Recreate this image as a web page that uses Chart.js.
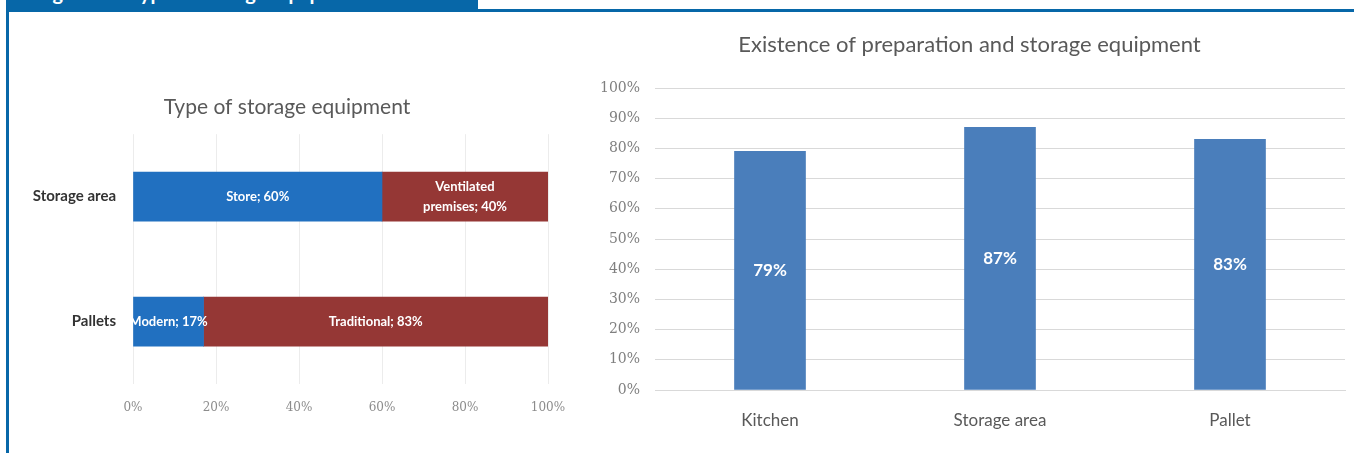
<!DOCTYPE html>
<html>
<head>
<meta charset="utf-8">
<script src="https://cdn.jsdelivr.net/npm/chart.js@4.4.0/dist/chart.umd.min.js"></script>
<style>
  body { margin: 0; background: #fff; width: 1354px; height: 453px; overflow: hidden; position: relative; }
  #tab { position: absolute; left: 6px; top: 0; width: 472px; height: 12px; background: #0767a8; overflow: hidden; }
  #tab span { position: absolute; left: 30px; top: -20px; line-height: 20px; color: #fff; font: bold 20px Lato, sans-serif; white-space: nowrap; }
  #topline { position: absolute; left: 478px; top: 9px; right: 0; height: 3px; background: #0767a8; }
  #leftline { position: absolute; left: 6px; top: 12px; bottom: 0; width: 3px; background: #0767a8; }
  #typeChart { position: absolute; left: 18px; top: 70px; }
  #existChart { position: absolute; left: 580px; top: 20px; }
</style>
</head>
<body>
<div id="tab"><span>Figure 10: Type of storage equipment</span></div>
<div id="topline"></div>
<div id="leftline"></div>
<canvas id="typeChart" width="560" height="360"></canvas>
<canvas id="existChart" width="770" height="425"></canvas>
<script>
// Type of storage equipment (shares in %)
const typeCategories = ['Storage area', 'Pallets'];
const firstNames = ['Store', 'Modern'];
const firstShare = [60, 17];
const secondNames = ['Ventilated\npremises', 'Traditional'];
const secondShare = [40, 83];
const typeTicks = [0, 20, 40, 60, 80, 100];

// Existence of preparation and storage equipment (%)
const equipCategories = ['Kitchen', 'Storage area', 'Pallet'];
const equipShare = [79, 87, 83];
const equipTicks = [0, 10, 20, 30, 40, 50, 60, 70, 80, 90, 100];

const pct = v => v + '%';

// white text in the middle of each bar, clipped to the plot area
const barLabels = {
  id: 'barLabels',
  afterDatasetsDraw(chart, args, opts) {
    const { ctx, chartArea } = chart;
    const horiz = chart.options.indexAxis === 'y';
    ctx.save();
    ctx.beginPath();
    ctx.rect(chartArea.left, chartArea.top, chartArea.width, chartArea.height);
    ctx.clip();
    ctx.fillStyle = opts.color;
    ctx.font = opts.font;
    ctx.textAlign = 'center';
    ctx.textBaseline = 'middle';
    chart.data.datasets.forEach((ds, i) => {
      chart.getDatasetMeta(i).data.forEach((bar, j) => {
        const p = bar.getProps(['x', 'y', 'base'], true);
        const cx = horiz ? (p.x + p.base) / 2 : p.x;
        const cy = horiz ? p.y : (p.y + p.base) / 2;
        const lines = ds.valueLabels[j];
        lines.forEach((t, k) => {
          ctx.fillText(t, cx, cy + (k - (lines.length - 1) / 2) * opts.lineHeight);
        });
      });
    });
    ctx.restore();
  }
};

const noOverhang = s => { s.paddingLeft = 0; s.paddingRight = 0; s.paddingTop = 0; s.paddingBottom = 0; };

new Chart(document.getElementById('typeChart'), {
  type: 'bar',
  plugins: [barLabels],
  data: {
    labels: typeCategories,
    datasets: [
      {
        data: firstShare,
        backgroundColor: '#2170c0',
        valueLabels: firstShare.map((v, i) => (firstNames[i] + '; ' + pct(v)).split('\n')),
        barThickness: 49
      },
      {
        data: secondShare,
        backgroundColor: '#953735',
        valueLabels: secondShare.map((v, i) => (secondNames[i] + '; ' + pct(v)).split('\n')),
        barThickness: 49
      }
    ]
  },
  options: {
    indexAxis: 'y',
    responsive: false,
    animation: false,
    layout: { padding: { left: 8, right: 30, top: 0, bottom: 0 } },
    plugins: {
      legend: { display: false },
      tooltip: { enabled: false },
      title: {
        display: true,
        text: 'Type of storage equipment',
        color: '#595959',
        font: { family: 'Lato', size: 21, weight: 'normal' },
        padding: { top: 25, bottom: 14 }
      },
      barLabels: { color: '#ffffff', font: 'bold 13px Lato', lineHeight: 20 }
    },
    scales: {
      x: {
        stacked: true,
        min: 0,
        max: 100,
        afterBuildTicks: s => { s.ticks = typeTicks.map(v => ({ value: v })); },
        afterFit: s => { noOverhang(s); s.height = 46; },
        grid: { color: '#ececec', drawTicks: false },
        border: { display: false },
        ticks: {
          callback: v => pct(v),
          color: '#8c8c8c',
          padding: 17,
          maxRotation: 0,
          font: { family: 'DejaVu Serif', size: 12 }
        }
      },
      y: {
        stacked: true,
        afterFit: s => { noOverhang(s); s.width = 107; },
        grid: { display: false },
        border: { display: false },
        ticks: {
          color: '#333333',
          padding: 9,
          font: { family: 'Lato', size: 15, weight: 'bold' }
        }
      }
    }
  }
});

new Chart(document.getElementById('existChart'), {
  type: 'bar',
  plugins: [barLabels],
  data: {
    labels: equipCategories,
    datasets: [{
      data: equipShare,
      backgroundColor: '#4a7ebb',
      valueLabels: equipShare.map(v => [pct(v)]),
      barThickness: 71
    }]
  },
  options: {
    responsive: false,
    animation: false,
    layout: { padding: { left: 14, right: 5, top: 0, bottom: 0 } },
    plugins: {
      legend: { display: false },
      tooltip: { enabled: false },
      title: {
        display: true,
        text: 'Existence of preparation and storage equipment',
        color: '#595959',
        font: { family: 'Lato', size: 22, weight: 'normal' },
        padding: { top: 12, bottom: 29.6 }
      },
      barLabels: { color: '#ffffff', font: 'bold 17px Lato', lineHeight: 20 }
    },
    scales: {
      x: {
        afterFit: s => { noOverhang(s); s.height = 55; },
        grid: { display: false, drawTicks: false },
        border: { color: '#d9d9d9' },
        ticks: {
          color: '#595959',
          padding: 20,
          font: { family: 'Lato', size: 17 }
        }
      },
      y: {
        min: 0,
        max: 100,
        afterBuildTicks: s => { s.ticks = equipTicks.map(v => ({ value: v })); },
        afterFit: s => { noOverhang(s); s.width = 61; },
        grid: { color: '#d9d9d9', drawTicks: false },
        border: { display: false },
        ticks: {
          callback: v => pct(v),
          color: '#7f7f7f',
          padding: 15,
          font: { family: 'DejaVu Serif', size: 14 }
        }
      }
    }
  }
});
</script>
</body>
</html>
